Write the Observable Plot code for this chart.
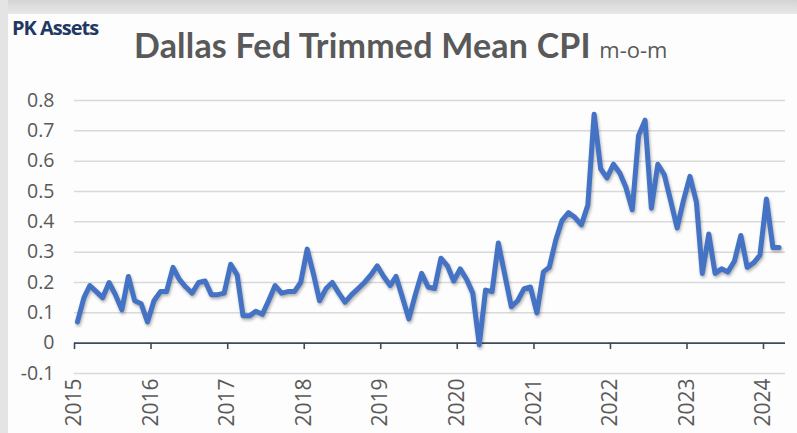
<!DOCTYPE html>
<html>
<head>
<meta charset="utf-8">
<script src="https://cdn.jsdelivr.net/npm/d3@7"></script>
<script src="https://cdn.jsdelivr.net/npm/@observablehq/plot@0.6"></script>
<style>
  html, body { margin: 0; padding: 0; background: #ffffff; }
  #wrap { position: relative; width: 797px; height: 433px; overflow: hidden; background: #fdfdfd; font-family: "Open Sans", sans-serif; }
  #topband { position: absolute; left: 0; top: 0; width: 797px; height: 14px; background: linear-gradient(#d4d4d4, #e8e8e8); }
  #leftband { position: absolute; left: 0; top: 0; width: 8px; height: 433px; background: #e4e4e4; }
  #header { position: relative; height: 80px; }
  #brand { position: absolute; left: 12px; top: 14px; font-family: "Open Sans", sans-serif; font-weight: 700; font-size: 20px; letter-spacing: -1px; color: #1f3864; }
  #title { position: absolute; left: 134px; top: 24px; font-family: Lato, "Open Sans", sans-serif; font-weight: 700; font-size: 34px; letter-spacing: 0.2px; color: #595959; white-space: nowrap; }
  #title span { font-family: "Open Sans", sans-serif; font-weight: 400; font-size: 22px; letter-spacing: 0; }
  #chart { position: relative; }
</style>
</head>
<body>
<div id="wrap">
  <div id="topband"></div>
  <div id="leftband"></div>
  <div id="header">
    <div id="brand">PK Assets</div>
    <div id="title">Dallas Fed Trimmed Mean CPI <span>m-o-m</span></div>
  </div>
  <div id="chart"></div>
</div>
<script>
// Monthly % change (m-o-m), Dallas Fed Trimmed Mean CPI
const v2015 = [0.07, 0.15, 0.19, 0.17, 0.15, 0.20, 0.16, 0.11, 0.22, 0.14, 0.13, 0.07];
const v2016 = [0.14, 0.17, 0.17, 0.25, 0.21, 0.185, 0.165, 0.20, 0.205, 0.16, 0.16, 0.165];
const v2017 = [0.26, 0.225, 0.09, 0.09, 0.105, 0.095, 0.14, 0.19, 0.165, 0.17, 0.17, 0.20];
const v2018 = [0.31, 0.225, 0.14, 0.18, 0.20, 0.165, 0.135, 0.16, 0.18, 0.20, 0.225, 0.255];
const v2019 = [0.22, 0.19, 0.22, 0.15, 0.08, 0.16, 0.23, 0.185, 0.18, 0.28, 0.255, 0.205];
const v2020 = [0.245, 0.21, 0.165, -0.005, 0.175, 0.17, 0.33, 0.225, 0.12, 0.14, 0.18, 0.185];
const v2021 = [0.10, 0.235, 0.25, 0.34, 0.405, 0.43, 0.415, 0.39, 0.455, 0.755, 0.575, 0.545];
const v2022 = [0.59, 0.56, 0.515, 0.44, 0.685, 0.735, 0.445, 0.59, 0.555, 0.47, 0.38, 0.47];
const v2023 = [0.55, 0.465, 0.23, 0.36, 0.23, 0.245, 0.235, 0.27, 0.355, 0.25, 0.265, 0.29];
const v2024 = [0.475, 0.315, 0.315];

const yearLabels = [2015, 2016, 2017, 2018, 2019, 2020, 2021, 2022, 2023, 2024];
const yTicks = [-0.1, 0, 0.1, 0.2, 0.3, 0.4, 0.5, 0.6, 0.7, 0.8];

const byYear = [v2015, v2016, v2017, v2018, v2019, v2020, v2021, v2022, v2023, v2024];
const data = [];
byYear.forEach((vals, yi) => {
  vals.forEach((v, m) => data.push({date: new Date(Date.UTC(yearLabels[yi], m, 15)), value: v}));
});
const yearDates = yearLabels.map(y => new Date(Date.UTC(y, 0, 1)));

const axisColor = "#3e4b5b";
const textColor = "#595959";

const plot = Plot.plot({
  width: 797,
  height: 353,
  marginTop: 20,
  marginBottom: 60,
  marginLeft: 74,
  marginRight: 12,
  style: {background: "transparent", fontFamily: "'Open Sans', sans-serif"},
  x: {type: "utc", domain: [new Date(Date.UTC(2015, 0, 1)), new Date(Date.UTC(2024, 3, 15))], label: null},
  y: {domain: [-0.1, 0.8], label: null},
  marks: [
    Plot.ruleY(yTicks.filter(d => d !== 0), {stroke: "#d9d9d9", strokeWidth: 1.5}),
    Plot.ruleY([0], {stroke: axisColor, strokeWidth: 1.6}),
    Plot.ruleX(yearDates, {x: d => d, y1: 0, y2: -0.021, stroke: axisColor, strokeWidth: 1.6}),
    Plot.line(data, {x: "date", y: "value", stroke: "#4472c4", strokeWidth: 5, strokeLinejoin: "round", strokeLinecap: "round"}),
    Plot.axisY(yTicks, {tickSize: 0, tickPadding: 20, fontSize: 19.5, color: textColor, label: null, tickFormat: d => String(Math.round(d * 10) / 10)}),
    Plot.axisX(yearDates, {tickSize: 0, tickPadding: 5, tickRotate: -90, fontSize: 21, color: textColor, label: null, tickFormat: d => String(d.getUTCFullYear())})
  ]
});
plot.querySelectorAll('[aria-label="line"] path').forEach(p => {
  p.style.filter = "drop-shadow(1px 2px 1.5px rgba(0,0,0,0.3))";
});
document.getElementById("chart").appendChild(plot);
</script>
</body>
</html>
